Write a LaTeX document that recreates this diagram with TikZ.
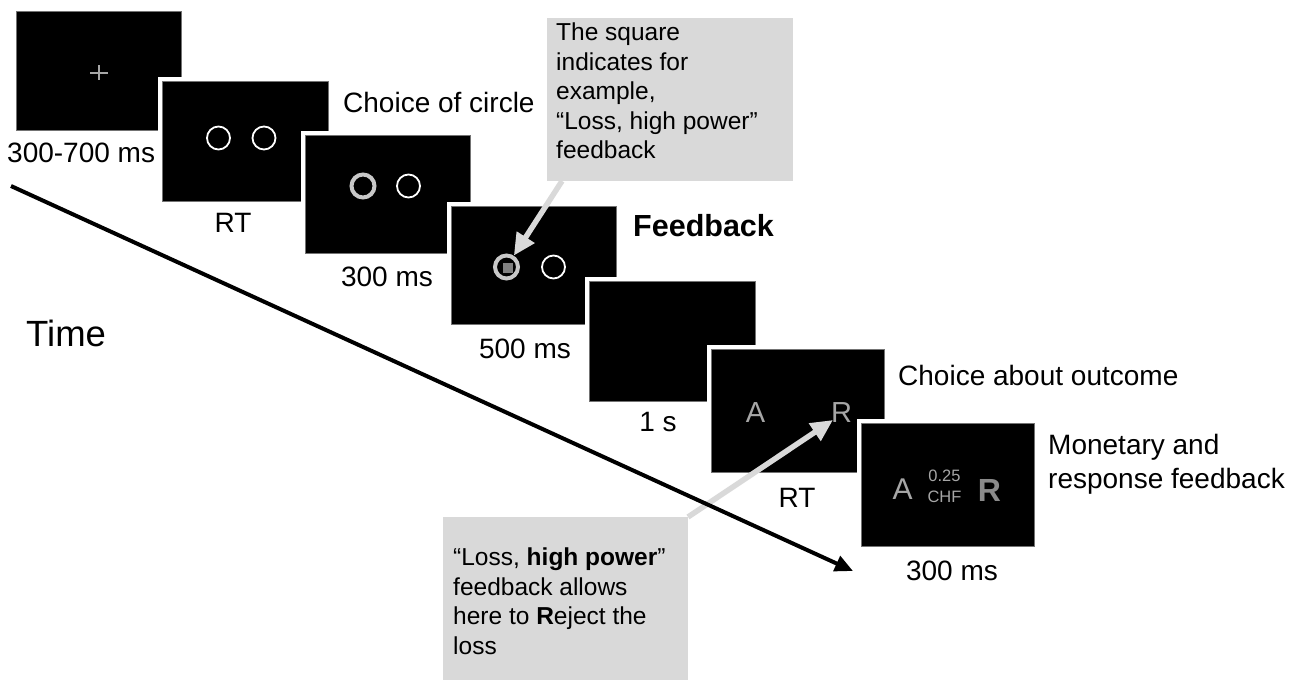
\documentclass[tikz,border=0pt]{standalone}
\usepackage{fontspec}
\setmainfont{Liberation Sans}
\usetikzlibrary{arrows.meta,calc}

\definecolor{calloutgray}{HTML}{D9D9D9}
\definecolor{ringgray}{HTML}{C8C8C8}
\definecolor{lettergray}{HTML}{A6A6A6}
\definecolor{markgray}{HTML}{808080}
\definecolor{boldgray}{HTML}{8A8A8A}

\newcommand\lblfont{\fontsize{28pt}{34pt}\selectfont}
\newcommand\notefont{\fontsize{24.5pt}{29.5pt}\selectfont}

\tikzset{
  screen/.style={anchor=north west, fill=black, draw=black!55, line width=0.8pt,
    inner sep=0pt, outer sep=0pt, preaction={draw=white, line width=8pt}},
  lbl/.style={inner sep=0pt, font=\lblfont},
  thinring/.style={circle, draw=white, line width=1.8pt, minimum size=23pt, inner sep=0pt},
  thickring/.style={circle, draw=ringgray, line width=4pt, minimum size=23pt, inner sep=0pt},
  callout/.style={anchor=north west, fill=calloutgray, inner sep=0pt, outer sep=0pt},
  notetext/.style={anchor=north west, inner sep=0pt, align=left, font=\notefont},
  pointer/.style={draw=calloutgray, line width=5.5pt, -{Triangle[length=22pt, width=20pt]}},
  timeline/.style={draw=black, line width=4pt, -{Triangle[length=18pt, width=16pt]}},
  crossline/.style={draw=lettergray, line width=2pt},
  scrletter/.style={inner sep=0pt, text=lettergray}
}

\begin{document}
\begin{tikzpicture}[x=1pt, y=-1pt]
\useasboundingbox (0,0) rectangle (1301,680);

% fixation screen
\node[screen, minimum width=165pt, minimum height=119pt] (s1) at (16,11) {};
\draw[crossline] (90,72.5) -- (108,72.5);
\draw[crossline] (99,65) -- (99,80);
\node[lbl, anchor=west] (l1) at (7,153) {300-700 ms};

% choice screen
\node[screen, minimum width=166pt, minimum height=120pt] (s2) at (162,81) {};
\node[thinring] (c2a) at (218.5,138) {};
\node[thinring] (c2b) at (264,138) {};
\node[lbl] (l2) at (233,223) {RT};
\node[lbl, anchor=west] (h1) at (343,102) {Choice of circle};

% chosen circle
\node[screen, minimum width=165pt, minimum height=118pt] (s3) at (305,135) {};
\node[thickring] (c3a) at (363,186) {};
\node[thinring] (c3b) at (408.5,186) {};
\node[lbl] (l3) at (387,277) {300 ms};

% feedback screen
\node[screen, minimum width=165pt, minimum height=118pt] (s4) at (451,206) {};
\node[thickring] (c4a) at (506.5,267) {};
\node[fill=markgray, minimum size=10pt, inner sep=0pt] (sq) at (507.5,267.5) {};
\node[thinring] (c4b) at (553.5,267) {};
\node[lbl] (l4) at (525,349) {500 ms};
\node[inner sep=0pt, anchor=west, font=\fontsize{30.5pt}{34pt}\selectfont\bfseries] (h2) at (633,226) {Feedback};

% blank screen
\node[screen, minimum width=166pt, minimum height=120pt] (s5) at (589,281) {};
\node[lbl] (l5) at (658,422) {1 s};

% accept / reject screen
\node[screen, minimum width=173pt, minimum height=123pt] (s6) at (711,349) {};
\node[scrletter, font=\fontsize{29pt}{34pt}\selectfont] (a6) at (755.5,412.5) {A};
\node[scrletter, font=\fontsize{29pt}{34pt}\selectfont] (r6) at (841.5,412.5) {R};
\node[lbl] (l6) at (797,497.5) {RT};
\node[lbl, anchor=west] (h3) at (898,375) {Choice about outcome};

% outcome screen
\node[screen, minimum width=173pt, minimum height=123pt] (s7) at (861,423) {};
\node[scrletter, font=\fontsize{30pt}{34pt}\selectfont] (a7) at (902.5,489) {A};
\node[scrletter, font=\fontsize{16.5pt}{18pt}\selectfont] (m7a) at (944.5,476) {0.25};
\node[scrletter, font=\fontsize{16.5pt}{18pt}\selectfont] (m7b) at (944.5,496.5) {CHF};
\node[inner sep=0pt, text=boldgray, font=\fontsize{32pt}{36pt}\selectfont\bfseries] (r7) at (989.5,490) {R};
\node[lbl] (l7) at (952,571) {300 ms};
\node[lbl, anchor=north west, align=left] (h4) at (1048,434) {Monetary and\\response feedback};

% time axis
\node[inner sep=0pt, anchor=west, font=\fontsize{36.5pt}{40pt}\selectfont] (time) at (26,333.5) {Time};
\coordinate (tstart) at (11,186);
\coordinate (tend) at (853,571);

% callouts
\node[callout, minimum width=246pt, minimum height=163pt] (box1) at (547,18) {};
\node[notetext] (box1txt) at (556,23) {The square\\indicates for\\example,\\“Loss, high power”\\feedback};
\coordinate (box1out) at ($(box1.south west)+(15,0)$);

\node[callout, minimum width=245pt, minimum height=163pt] (box2) at (443,517) {};
\node[notetext] (box2txt) at (453,548) {“Loss, \textbf{high power}”\\feedback allows\\here to \textbf{R}eject the\\loss};
\coordinate (rtip) at (833,420);

\draw[pointer] (box1out) -- (c4a);
\draw[pointer] (box2.north east) -- (rtip);
\draw[timeline] (tstart) -- (tend);
\end{tikzpicture}
\end{document}
